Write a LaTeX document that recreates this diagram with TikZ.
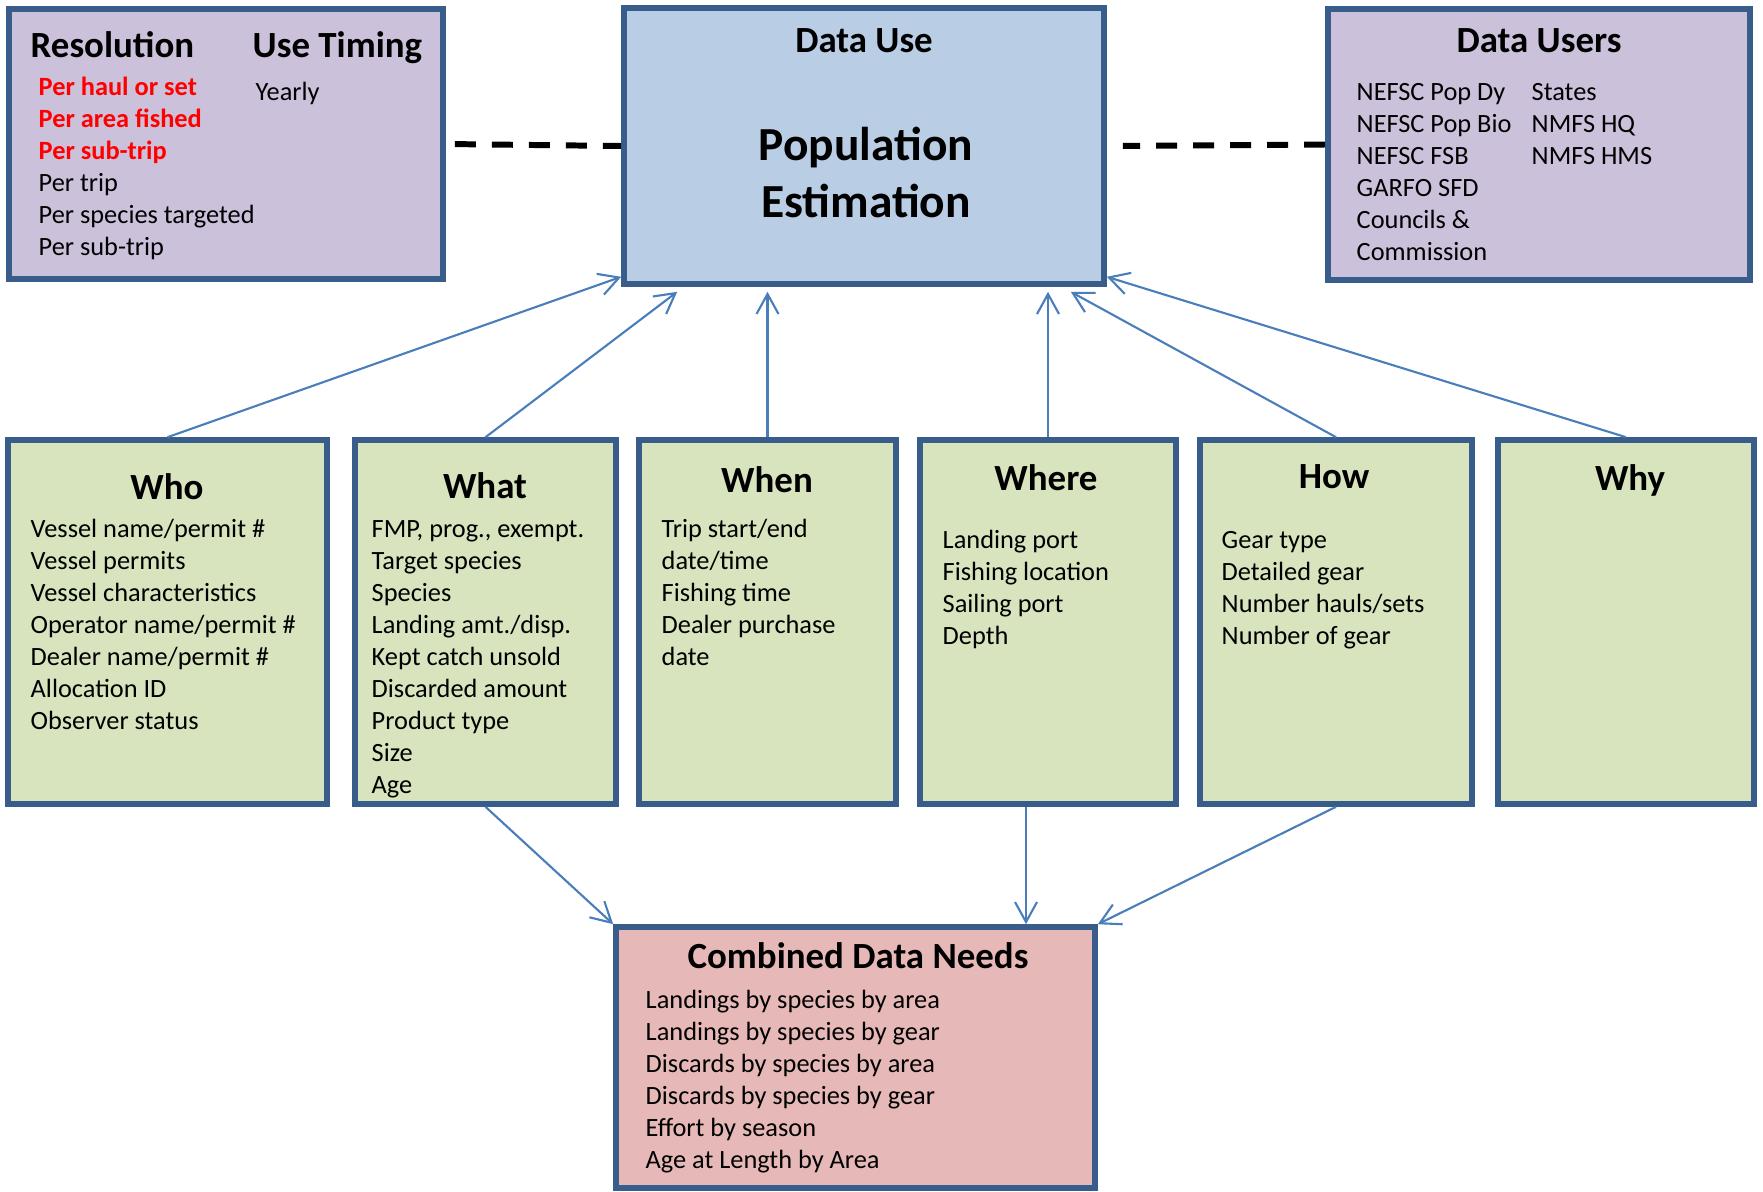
\documentclass[tikz,border=0pt]{standalone}
\usepackage{fontspec}
\setmainfont{Carlito}
\usetikzlibrary{arrows.meta, calc, fit, positioning}

\definecolor{boxline}{HTML}{385D8A}
\definecolor{lilac}{HTML}{CCC1DA}
\definecolor{paleblue}{HTML}{B9CDE5}
\definecolor{palegreen}{HTML}{D7E4BD}
\definecolor{palerose}{HTML}{E6B9B8}
\definecolor{linkblue}{HTML}{4A7EBB}

\tikzset{
  panel/.style={draw=boxline, line width=1.6pt, inner sep=0pt},
  heading/.style={font=\fontsize{10.5}{12.6}\selectfont\bfseries, inner sep=0pt, anchor=base},
  bigheading/.style={font=\fontsize{13.5}{16}\selectfont\bfseries, inner sep=0pt, anchor=base},
  entry/.style={font=\fontsize{7.5}{9}\selectfont, inner sep=0pt, anchor=base west},
  feed/.style={draw=linkblue, line width=0.6pt, -{Straight Barb[length=2mm,width=2.2mm]}},
  tie/.style={line width=1.7pt, dash pattern=on 2.1mm off 1.6mm},
}

\begin{document}
\begin{tikzpicture}[x=0.1mm, y=-0.1mm] % coordinates are pixels of the original
  \useasboundingbox (0,0) rectangle (1763,1191);

  % top row
  \node[panel, fill=lilac, fit={(9,9) (443,279)}] (res) {};
  \node[panel, fill=paleblue, fit={(624,8) (1104,284)}] (use) {};
  \node[panel, fill=lilac, fit={(1328,9) (1750,280)}] (users) {};

  % question boxes
  \foreach \name/\l/\r in {who/8/327, what/355/616, when/639/896, where/920/1176, how/1200/1472, why/1498/1754}
    \node[panel, fill=palegreen, fit={(\l,440) (\r,804)}] (\name) {};

  \node[panel, fill=palerose, fit={(616,927) (1095,1188)}] (need) {};

  % resolution / timing
  \node[heading, anchor=base west] (res-title) at (30,58) {Resolution};
  \node[heading, anchor=base west] (timing-title) at (252,58) {Use Timing};
  \foreach \txt [count=\i] in {Per haul or set, Per area fished, Per sub-trip}
    \node[entry, text=red] (res-\i) at (38,{95+32*(\i-1)}) {\bfseries\txt};
  \foreach \txt [count=\i from 4] in {Per trip, Per species targeted, Per sub-trip}
    \node[entry] (res-\i) at (38,{95+32*(\i-1)}) {\txt};
  \node[entry] (yearly) at (255,100) {Yearly};

  % data use
  \node[heading] (use-title) at (864,52) {Data Use};
  \node[bigheading] (pop) at (866,160) {Population};
  \node[bigheading] (est) at (866,217) {Estimation};

  % data users
  \node[heading] (users-title) at (1539,52) {Data Users};
  \foreach \txt [count=\i] in {NEFSC Pop Dy, NEFSC Pop Bio, NEFSC FSB, GARFO SFD, Councils \&, Commission}
    \node[entry] (users-a\i) at (1356,{100+32*(\i-1)}) {\txt};
  \foreach \txt [count=\i] in {States, NMFS HQ, NMFS HMS}
    \node[entry] (users-b\i) at (1531,{100+32*(\i-1)}) {\txt};

  % titles of the question boxes
  \node[heading] (who-title) at (167,499) {Who};
  \node[heading] (what-title) at (485,498) {What};
  \node[heading] (when-title) at (767,492) {When};
  \node[heading] (where-title) at (1046,490) {Where};
  \node[heading] (how-title) at (1334,488) {How};
  \node[heading] (why-title) at (1630,490) {Why};

  \foreach \txt [count=\i] in {Vessel name/permit \#, Vessel permits, Vessel characteristics,
      Operator name/permit \#, Dealer name/permit \#, Allocation ID, Observer status}
    \node[entry] (who-\i) at (30,{537+32*(\i-1)}) {\txt};
  \foreach \txt [count=\i] in {{FMP, prog., exempt.}, Target species, Species, Landing amt./disp.,
      Kept catch unsold, Discarded amount, Product type, Size, Age}
    \node[entry] (what-\i) at (371,{537+32*(\i-1)}) {\txt};
  \foreach \txt [count=\i] in {Trip start/end, date/time, Fishing time, Dealer purchase, date}
    \node[entry] (when-\i) at (661,{537+32*(\i-1)}) {\txt};
  \foreach \txt [count=\i] in {Landing port, Fishing location, Sailing port, Depth}
    \node[entry] (where-\i) at (942,{548+32*(\i-1)}) {\txt};
  \foreach \txt [count=\i] in {Gear type, Detailed gear, Number hauls/sets, Number of gear}
    \node[entry] (how-\i) at (1221,{548+32*(\i-1)}) {\txt};

  % combined needs
  \node[heading] (need-title) at (858,968) {Combined Data Needs};
  \foreach \txt [count=\i] in {Landings by species by area, Landings by species by gear,
      Discards by species by area, Discards by species by gear, Effort by season, Age at Length by Area}
    \node[entry] (need-\i) at (645,{1008+32*(\i-1)}) {\txt};

  % dashed ties
  \draw[tie, shorten <=0.9mm] (res.east) -- (use.west);
  \draw[tie, shorten >=1.6mm] (users.west) -- (use.east);

  % arrows up
  \draw[feed] (who.north) -- ($(use.south west)+(0,-10)$);
  \draw[feed] (what.north) -- ($(use.south west)+(56,5)$);
  \draw[feed] (when.north) -- ($(when.north |- use.south)+(0,5)$);
  \draw[feed] (where.north) -- ($(where.north |- use.south)+(0,5)$);
  \draw[feed] (how.north) -- ($(use.south east)+(-36,5)$);
  \draw[feed] (why.north) -- ($(use.south east)+(0,-10)$);

  % arrows down
  \coordinate (wherefoot) at ($(where.south)+(-22,0)$);
  \draw[feed] (what.south) -- (need.north west);
  \draw[feed] (wherefoot) -- (wherefoot |- need.north);
  \draw[feed] (how.south) -- (need.north east);
\end{tikzpicture}
\end{document}
